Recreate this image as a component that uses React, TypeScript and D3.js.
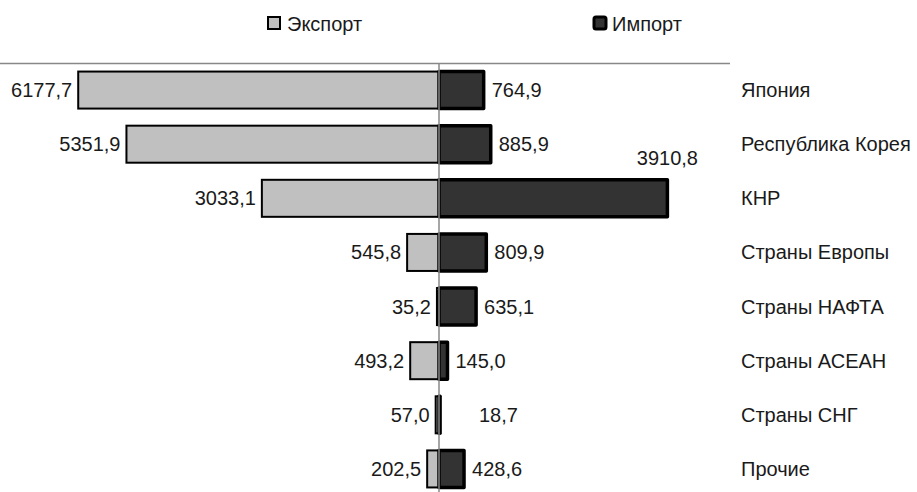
import React from "react";
import * as d3 from "d3";

const categories = [
  "Япония",
  "Республика Корея",
  "КНР",
  "Страны Европы",
  "Страны НАФТА",
  "Страны АСЕАН",
  "Страны СНГ",
  "Прочие",
];
const exportValues = [6177.7, 5351.9, 3033.1, 545.8, 35.2, 493.2, 57.0, 202.5];
const importValues = [764.9, 885.9, 3910.8, 809.9, 635.1, 145.0, 18.7, 428.6];
const seriesNames = ["Экспорт", "Импорт"];

const W = 917;
const H = 492;
const CX = 439;
const FONT = "Arial, 'Liberation Sans', sans-serif";
const FS = 20;

const fmt = (v: number) => d3.format(".1f")(v).replace(".", ",");

export default function App() {
  const y = d3
    .scaleBand<string>()
    .domain(categories)
    .range([63, 496])
    .paddingInner(0.316)
    .paddingOuter(0.158);
  const x = d3.scaleLinear().domain([0, 7500]).range([0, CX - 1]);
  const bw = y.bandwidth();

  return (
    <svg
      width={W}
      height={H}
      style={{ position: "absolute", left: 0, top: 0, background: "#fff" }}
      fontFamily={FONT}
      fontSize={FS}
    >
      {/* legend */}
      <rect x={268} y={17} width={12} height={12} fill="#c0c0c0" stroke="#000" strokeWidth={2} />
      <text x={287} y={24} dominantBaseline="central" fill="#1a1a1a">{seriesNames[0]}</text>
      <rect x={594} y={17} width={12} height={12} rx={2} fill="#333" stroke="#000" strokeWidth={3} />
      <text x={612} y={24} dominantBaseline="central" fill="#1a1a1a">{seriesNames[1]}</text>

      {/* top line */}
      <line x1={0} x2={730} y1={63.5} y2={63.5} stroke="#888" strokeWidth={1.5} />

      {categories.map((c, i) => {
        const yc = (y(c) as number) + bw / 2;
        const ew = x(exportValues[i]);
        const iw = x(importValues[i]);
        const isBig = importValues[i] > 3000;
        const importLabelX = i === 6 ? 479 : CX + iw + 8;
        return (
          <g key={c}>
            <rect
              x={CX - ew}
              y={yc - bw / 2}
              width={ew}
              height={bw}
              fill="#c0c0c0"
              stroke="#000"
              strokeWidth={2}
            />
            <rect
              x={CX}
              y={yc - bw / 2}
              width={iw}
              height={bw}
              fill="#333"
              stroke="#000"
              strokeWidth={3.5}
              strokeLinejoin="round"
            />
            <text
              x={CX - ew - 6}
              y={yc}
              textAnchor="end"
              dominantBaseline="central"
              fill="#1a1a1a"
            >
              {fmt(exportValues[i])}
            </text>
            {isBig ? (
              <text
                x={CX + iw}
                y={yc - bw / 2 - 22}
                textAnchor="middle"
                dominantBaseline="central"
                fill="#1a1a1a"
              >
                {fmt(importValues[i])}
              </text>
            ) : (
              <text x={importLabelX} y={yc} dominantBaseline="central" fill="#1a1a1a">
                {fmt(importValues[i])}
              </text>
            )}
            <text x={741} y={yc} dominantBaseline="central" fill="#1a1a1a">
              {c}
            </text>
          </g>
        );
      })}

      {/* center line */}
      <line x1={CX} x2={CX} y1={63} y2={H} stroke="#888" strokeWidth={1.5} />
    </svg>
  );
}
